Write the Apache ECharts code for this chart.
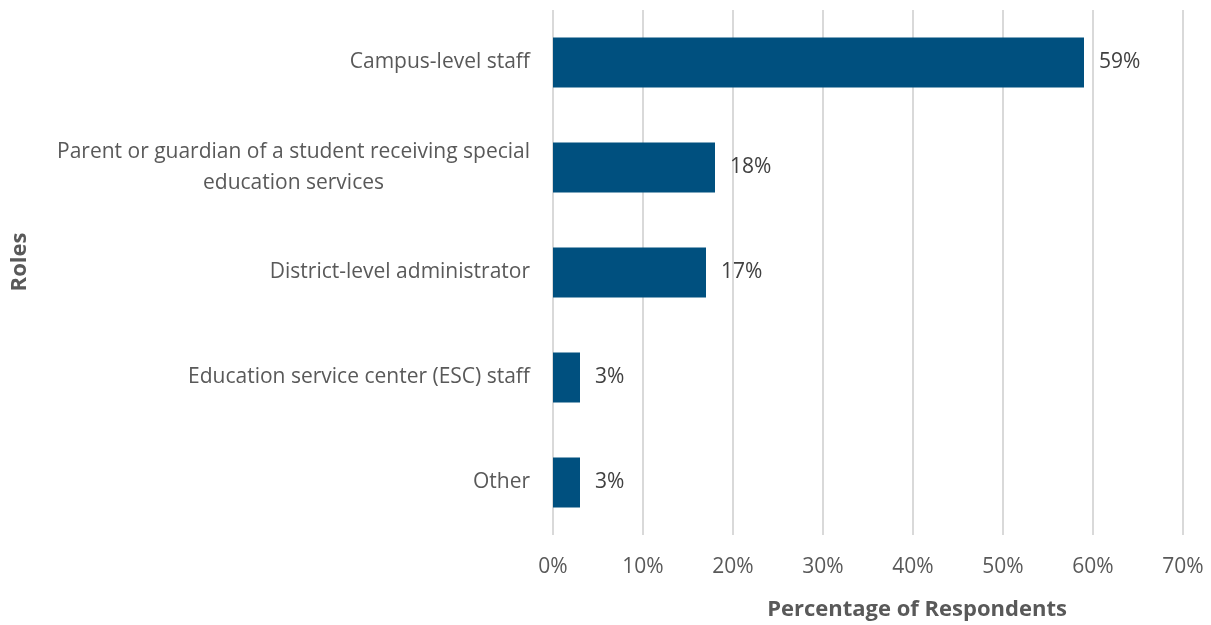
<!DOCTYPE html>
<html>
<head>
<meta charset="utf-8">
<script src="https://cdn.jsdelivr.net/npm/echarts@6/dist/echarts.min.js"></script>
<style>
  html, body { margin: 0; padding: 0; background: #ffffff; }
  #chart { width: 1211px; height: 625px; }
</style>
</head>
<body>
<div id="chart"></div>
<script>
// Survey respondents by role
const roles = [
  'Campus-level staff',
  'Parent or guardian of a student receiving special\neducation services',
  'District-level administrator',
  'Education service center (ESC) staff',
  'Other'
];
const percentages = [59, 18, 17, 3, 3];
const xTicks = [0, 10, 20, 30, 40, 50, 60, 70];

const FONT = '"Open Sans", "Liberation Sans", sans-serif';
const chart = echarts.init(document.getElementById('chart'));

chart.setOption({
  animation: false,
  grid: { left: 553, right: 28, top: 10, bottom: 90, containLabel: false },
  xAxis: {
    type: 'value',
    min: xTicks[0],
    max: xTicks[xTicks.length - 1],
    interval: 10,
    axisLine: { show: false },
    axisTick: { show: false },
    splitLine: { show: true, lineStyle: { color: '#d9d9d9', width: 2 } },
    axisLabel: {
      formatter: '{value}%',
      color: '#595959',
      fontFamily: FONT,
      fontSize: 21,
      margin: 22
    }
  },
  yAxis: {
    type: 'category',
    data: roles,
    inverse: true,
    axisLine: { show: false },
    axisTick: { show: false },
    axisLabel: {
      margin: 23,
      color: '#595959',
      fontFamily: FONT,
      fontSize: 21,
      lineHeight: 31,
      formatter: function (v) {
        return v.split('\n').map(function (s) { return '{c|' + s + '}'; }).join('\n');
      },
      rich: {
        c: { align: 'center', color: '#595959', fontFamily: FONT, fontSize: 21, lineHeight: 31 }
      }
    }
  },
  series: [{
    type: 'bar',
    data: percentages,
    barWidth: 50,
    itemStyle: { color: '#00507f' },
    label: {
      show: true,
      position: 'right',
      distance: 15,
      formatter: '{c}%',
      color: '#404040',
      fontFamily: FONT,
      fontSize: 21
    }
  }],
  graphic: [
    {
      type: 'text',
      x: 917, y: 610,
      style: {
        text: 'Percentage of Respondents',
        fill: '#595959',
        font: 'bold 22px ' + FONT,
        align: 'center',
        verticalAlign: 'middle'
      }
    },
    {
      type: 'text',
      x: 20, y: 262,
      rotation: Math.PI / 2,
      style: {
        text: 'Roles',
        fill: '#595959',
        font: 'bold 22px ' + FONT,
        align: 'center',
        verticalAlign: 'middle'
      }
    }
  ]
});
</script>
</body>
</html>
